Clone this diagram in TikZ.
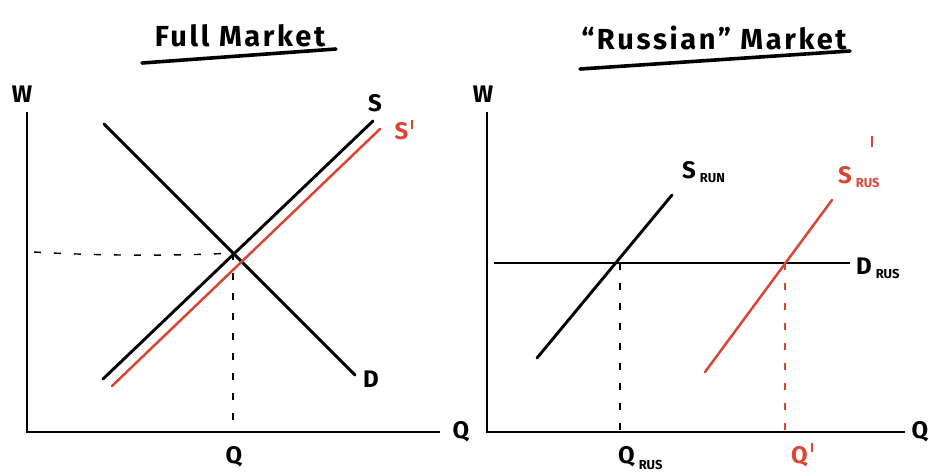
\documentclass[tikz,border=0pt]{standalone}
\usepackage{fontspec}
\setmainfont{Fira Sans}
\newfontfamily\handtitle[LetterSpace=9]{Fira Sans}
\definecolor{redline}{HTML}{DC4433}
\newcommand{\tickprime}{\hspace{3pt}\rule[11pt]{2.2pt}{9pt}}
\begin{document}
\begin{tikzpicture}[x=1pt,y=-1pt,
  curve/.style={line width=2.9pt,line cap=round},
  redcurve/.style={line width=2.5pt,line cap=round,redline},
  axis/.style={line width=2.9pt},
  guide/.style={line width=1.4pt,dash pattern=on 7pt off 13pt},
  lbl/.style={font=\fontsize{24}{24}\selectfont\bfseries},
  ttl/.style={font=\handtitle\fontsize{29}{29}\selectfont\bfseries}]
\useasboundingbox (0,0) rectangle (929,475);
% ---------- left panel ----------
\node[ttl] (t1) at (240,36) {Full Market};
\coordinate (u1a) at (142,63); \coordinate (u1b) at (336,49);
\draw[line width=3.6pt,line cap=round] (u1a) -- (u1b);
\coordinate (o1) at (27,432); \coordinate (y1) at (27,112); \coordinate (x1) at (440,432);
\draw[axis] (y1) -- (o1) -- (x1);
\node[lbl] (w1) at (22,94) {W};
\node[lbl] (q1) at (461,432) {Q};
\coordinate (sa) at (103,379); \coordinate (sb) at (373,121);
\coordinate (spa) at (112,386); \coordinate (spb) at (380,129);
\coordinate (da) at (104,124); \coordinate (db) at (355,375);
\coordinate (e1) at (233,253);
\coordinate (h1) at (34,252); \coordinate (v1) at (233,432);
\draw[guide] (h1) .. controls (100,256) and (180,256) .. (e1);
\draw[guide] (e1) -- (v1);
\draw[curve] (da) -- (db);
\draw[redcurve] (spa) -- (spb);
\draw[curve] (sa) -- (sb);
\node[lbl] (ls) at (375,103) {S};
\node[lbl,redline] (lsp) at (404,130) {S\tickprime};
\node[lbl] (ld) at (371,379) {D};
\node[lbl] (lq) at (234,457) {Q};
% ---------- right panel ----------
\node[ttl] (t2) at (714,38) {“Russian” Market};
\coordinate (u2a) at (580,69); \coordinate (u2b) at (850,51);
\draw[line width=3.6pt,line cap=round] (u2a) -- (u2b);
\coordinate (o2) at (487,432); \coordinate (y2) at (487,112); \coordinate (x2) at (905,432);
\draw[axis] (y2) -- (o2) -- (x2);
\node[lbl] (w2) at (483,94) {W};
\node[lbl] (q2) at (920,432) {Q};
\coordinate (dra) at (494,263); \coordinate (drb) at (850,263);
\draw[line width=2.6pt] (dra) -- (drb);
\coordinate (ra) at (537,358); \coordinate (rb) at (672,195);
\draw[curve] (ra) -- (rb);
\coordinate (pa) at (705,372); \coordinate (pb) at (832,200);
\draw[redcurve] (pa) -- (pb);
\coordinate (e2) at (620,263); \coordinate (v2) at (620,432);
\coordinate (e3) at (785,263); \coordinate (v3) at (785,432);
\draw[guide] (e2) -- (v2);
\draw[guide,redline] (e3) -- (v3);
\node[lbl,anchor=west,inner sep=0pt] (lsr) at (682,172) {S\,\raisebox{-4pt}{\fontsize{13}{13}\selectfont RUN}};
\node[lbl,anchor=west,redline,inner sep=0pt] (lsr2) at (838,177) {S\,\raisebox{-4pt}{\fontsize{13}{13}\selectfont RUS}};
\node[redline,inner sep=0pt] (lprime) at (872,141) {\rule{2.2pt}{11pt}};
\node[lbl,anchor=west,inner sep=0pt] (ldr) at (856,268) {D\,\raisebox{-4pt}{\fontsize{13}{13}\selectfont RUS}};
\node[lbl,anchor=west,inner sep=0pt] (lqr) at (618,458) {Q\,\raisebox{-6pt}{\fontsize{13}{13}\selectfont RUS}};
\node[lbl,redline] (lqp) at (802,455) {Q\tickprime};
\end{tikzpicture}
\end{document}
